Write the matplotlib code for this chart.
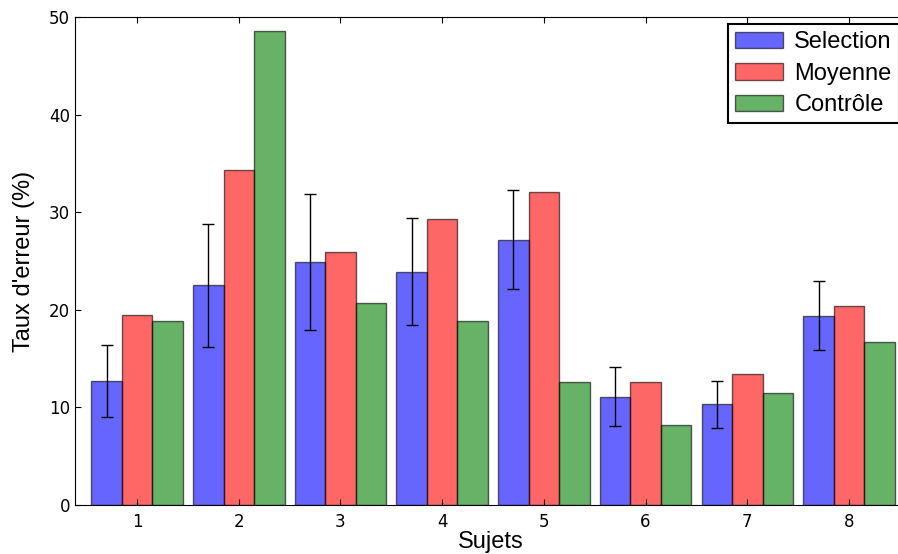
import matplotlib.pyplot as plt
import numpy as np

sujets = [1, 2, 3, 4, 5, 6, 7, 8]
selection = [12.7, 22.5, 24.9, 23.9, 27.2, 11.1, 10.3, 19.4]
selection_err = [3.7, 6.3, 7.0, 5.5, 5.1, 3.0, 2.4, 3.5]
moyenne = [19.5, 34.3, 25.9, 29.3, 32.1, 12.6, 13.4, 20.4]
controle = [18.9, 48.6, 20.7, 18.9, 12.6, 8.2, 11.5, 16.7]

series_names = ['Selection', 'Moyenne', 'Contrôle']

label_font = 'Liberation Sans'

fig = plt.figure(figsize=(8.98, 5.54), dpi=100)
# the original picture is cropped on the right, so the axes run past the edge
ax = fig.add_axes([75/898, 1 - 505/554, (906 - 75)/898, (505 - 17)/554])

x = np.array(sujets)
w = 0.3

ax.bar(x - w, selection, w, color='b', alpha=0.6, edgecolor='k', linewidth=1.0,
       yerr=selection_err, error_kw=dict(ecolor='k', capsize=4, elinewidth=1.0),
       label=series_names[0])
ax.bar(x, moyenne, w, color='r', alpha=0.6, edgecolor='k', linewidth=1.0,
       label=series_names[1])
ax.bar(x + w, controle, w, color='g', alpha=0.6, edgecolor='k', linewidth=1.0,
       label=series_names[2])

ax.set_xlim(0.39, 8.56)
ax.set_ylim(0, 50)
ax.set_xticks(sujets)
ax.set_yticks([0, 10, 20, 30, 40, 50])
ax.tick_params(direction='in', top=True, right=True, labelsize=12, length=4)
ax.tick_params(axis='x', pad=6)

ax.set_xlabel('Sujets', fontsize=17, family=label_font, labelpad=0)
ax.set_ylabel("Taux d'erreur (%)", fontsize=17, family=label_font, labelpad=10)

leg = ax.legend(loc='upper right', prop={'family': label_font, 'size': 17},
                fancybox=False, framealpha=1, borderaxespad=0.3,
                handlelength=2.0, handletextpad=0.5, labelspacing=0.4,
                borderpad=0.3)
leg.get_frame().set_edgecolor('k')
leg.get_frame().set_linewidth(1.5)

fig.savefig('out.png', dpi=100)
